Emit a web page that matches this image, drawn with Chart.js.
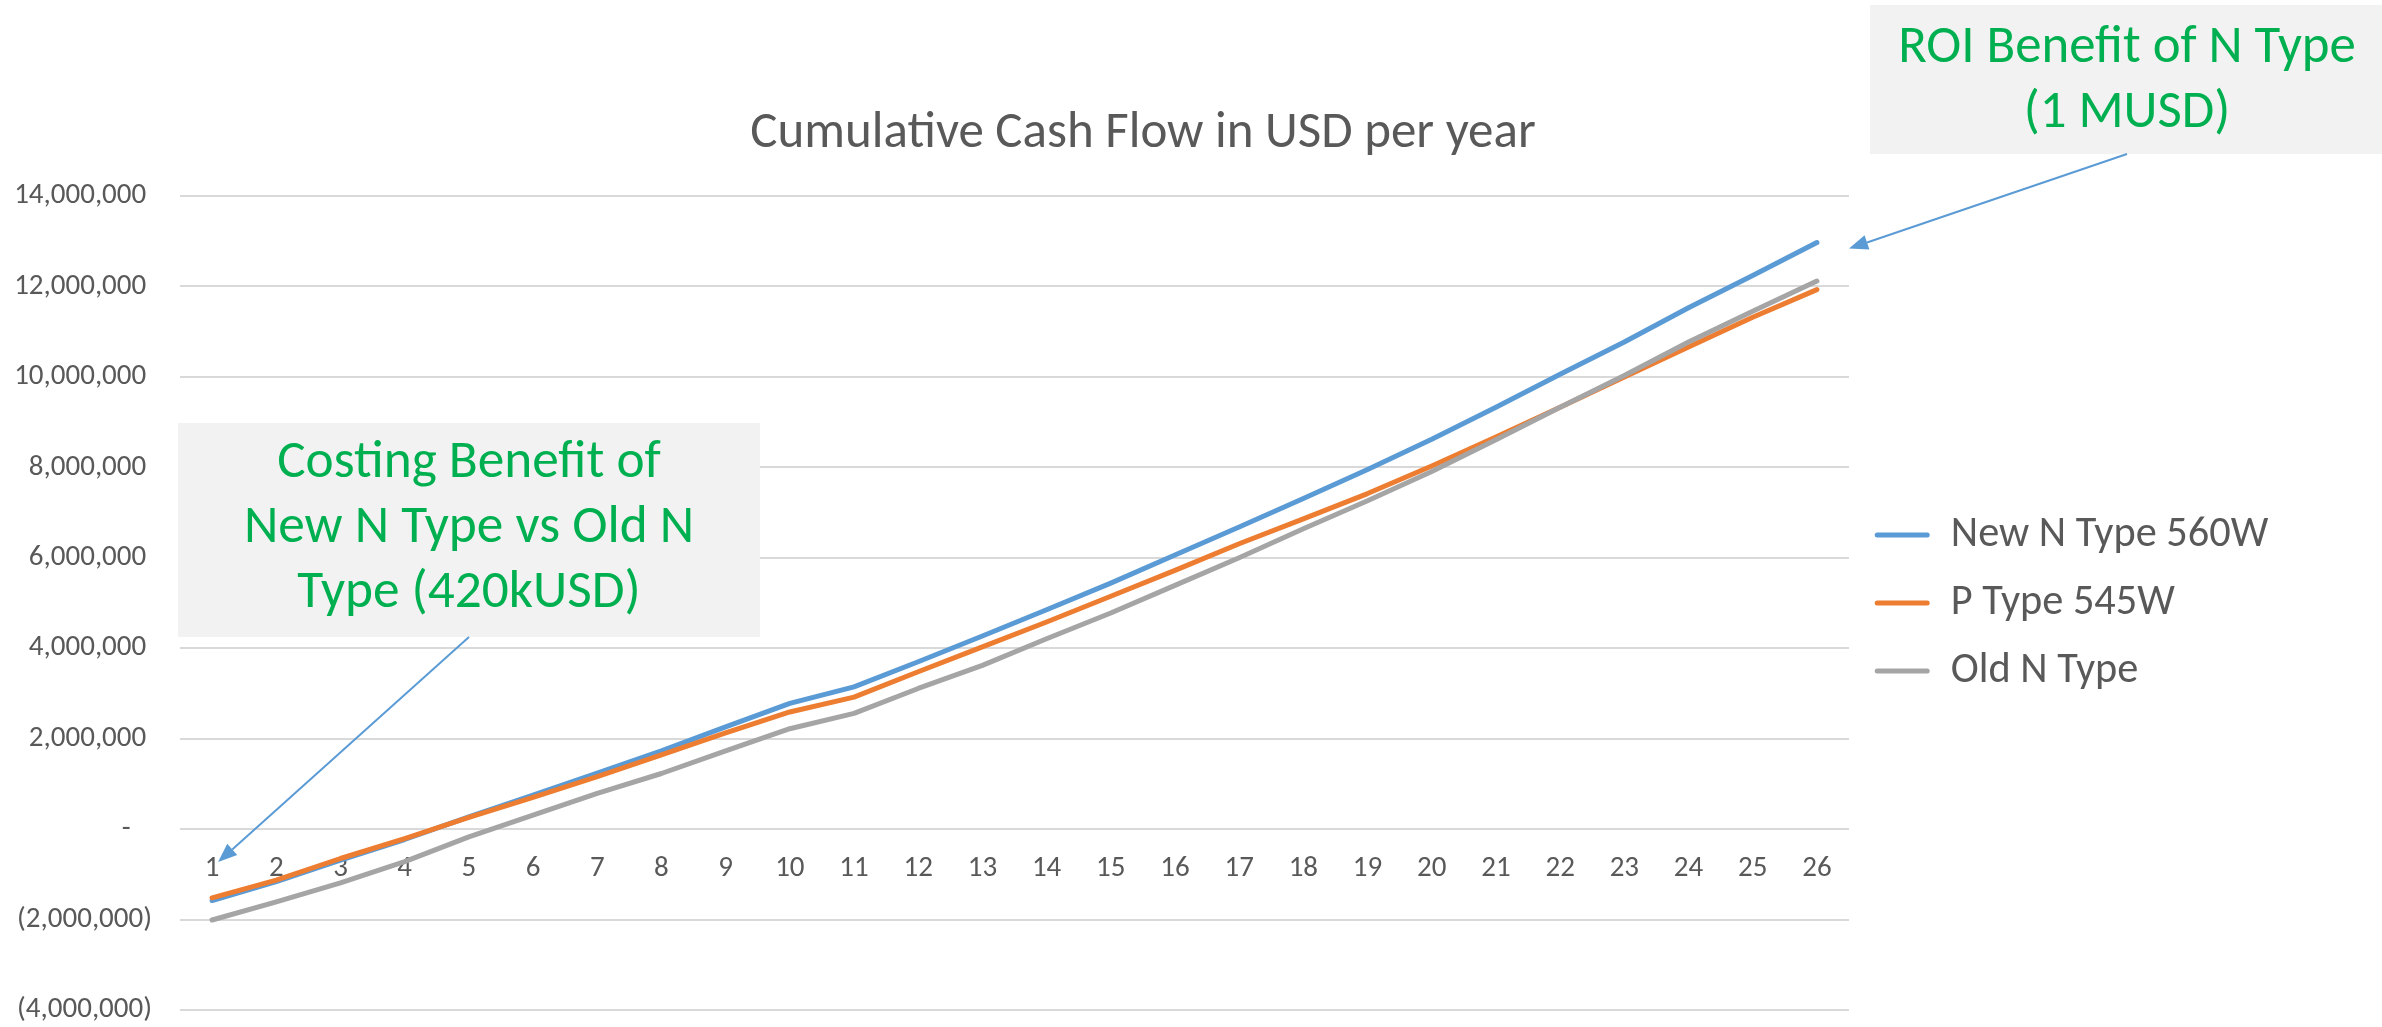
<!DOCTYPE html>
<html>
<head>
<meta charset="utf-8">
<script src="https://cdn.jsdelivr.net/npm/chart.js@4/dist/chart.umd.min.js"></script>
<style>
  html, body { margin: 0; padding: 0; background: #ffffff; }
  #wrap { position: relative; width: 2382px; height: 1027px; }
</style>
</head>
<body>
<div id="wrap"><canvas id="c"></canvas></div>
<script>
// ---------- data ----------
const years = ['1','2','3','4','5','6','7','8','9','10','11','12','13','14','15','16','17','18','19','20','21','22','23','24','25','26'];
const newNType560W = [-1580000, -1160000, -685000, -230000, 270000, 750000, 1240000, 1730000, 2260000, 2780000,
                      3145000, 3700000, 4270000, 4850000, 5440000, 6060000, 6680000, 7310000, 7950000, 8620000,
                      9330000, 10060000, 10770000, 11530000, 12240000, 12970000];
const pType545W    = [-1520000, -1130000, -650000, -210000, 260000, 700000, 1160000, 1640000, 2130000, 2590000,
                      2920000, 3480000, 4030000, 4580000, 5150000, 5720000, 6310000, 6860000, 7420000, 8030000,
                      8670000, 9330000, 10000000, 10660000, 11320000, 11930000];
const oldNType     = [-2010000, -1610000, -1190000, -720000, -170000, 310000, 790000, 1230000, 1730000, 2220000,
                      2560000, 3110000, 3620000, 4210000, 4780000, 5390000, 6000000, 6640000, 7260000, 7910000,
                      8610000, 9330000, 10030000, 10770000, 11450000, 12120000];
const seriesNames = ['New N Type 560W', 'P Type 545W', 'Old N Type'];
const yMin = -4000000, yMax = 14000000, yStep = 2000000;
const titleText = 'Cumulative Cash Flow in USD per year';
const noteCosting = ['Costing Benefit of', 'New N Type vs Old N', 'Type (420kUSD)'];
const noteROI = ['ROI Benefit of N Type', '(1 MUSD)'];

// ---------- styling ----------
const FAMILY = "Carlito, Lato, 'Open Sans', sans-serif";
const TEXT = '#595959';
const GREEN = '#00B050';
const COLORS = ['#5B9BD5', '#ED7D31', '#A5A5A5'];

const mctx = document.createElement('canvas').getContext('2d');
function fitSize(text, width) {
  mctx.font = '100px ' + FAMILY;
  return Math.round(1000 * width / mctx.measureText(text).width) / 10;
}
const TITLE_SIZE = fitSize(titleText, 785);
const TICK_SIZE = fitSize('14,000,000', 132);
const LEGEND_SIZE = fitSize('P Type 545W', 224);
const NOTE1_SIZE = fitSize(noteCosting[0], 384);
const NOTE2_SIZE = fitSize(noteROI[0], 458);

function fmtTick(v) {
  if (v === 0) return '-\u2007\u2009';
  const s = Math.abs(v).toLocaleString('en-US');
  return v < 0 ? '(' + s + ')' : s + '\u2009';
}

const legendWidthPlugin = {
  id: 'legendWidth',
  afterInit(chart) {
    const lg = chart.legend;
    if (!lg) return;
    const orig = lg.fit;
    lg.fit = function () { orig.call(this); this.width = 437; };
  }
};

function arrow(ctx, x1, y1, x2, y2) {
  const ang = Math.atan2(y2 - y1, x2 - x1);
  const hl = 19, hw = 7.5;
  const bx = x2 - hl * Math.cos(ang), by = y2 - hl * Math.sin(ang);
  ctx.strokeStyle = '#5B9BD5';
  ctx.fillStyle = '#5B9BD5';
  ctx.lineWidth = 2;
  ctx.beginPath(); ctx.moveTo(x1, y1); ctx.lineTo(bx, by); ctx.stroke();
  ctx.beginPath();
  ctx.moveTo(x2, y2);
  ctx.lineTo(bx + hw * Math.sin(ang), by - hw * Math.cos(ang));
  ctx.lineTo(bx - hw * Math.sin(ang), by + hw * Math.cos(ang));
  ctx.closePath(); ctx.fill();
}

const notesPlugin = {
  id: 'notes',
  afterDraw(chart) {
    const ctx = chart.ctx;
    const xs = chart.scales.x, ys = chart.scales.y;
    ctx.save();
    // Costing box
    ctx.fillStyle = '#F2F2F2';
    ctx.fillRect(178, 423, 582, 214);
    ctx.fillStyle = GREEN;
    ctx.textAlign = 'center';
    ctx.textBaseline = 'middle';
    ctx.font = NOTE1_SIZE + 'px ' + FAMILY;
    [464, 529, 594].forEach((yy, i) => ctx.fillText(noteCosting[i], 469, yy));
    // ROI box
    ctx.fillStyle = '#F2F2F2';
    ctx.fillRect(1870, 5, 512, 149);
    ctx.fillStyle = GREEN;
    ctx.font = NOTE2_SIZE + 'px ' + FAMILY;
    [49, 114].forEach((yy, i) => ctx.fillText(noteROI[i], 2127, yy));
    // arrows
    arrow(ctx, 469, 637, xs.getPixelForValue(0) + 6, ys.getPixelForValue(0) + 33);
    arrow(ctx, 2127, 154, chart.chartArea.right, ys.getPixelForValue(newNType560W[newNType560W.length - 1]) + 6);
    ctx.restore();
  }
};

const seriesData = [newNType560W, pType545W, oldNType];

new Chart(document.getElementById('c'), {
  type: 'line',
  data: {
    labels: years,
    datasets: seriesNames.map((name, i) => ({
      label: name,
      data: seriesData[i],
      borderColor: COLORS[i],
      backgroundColor: COLORS[i],
      borderWidth: 5,
      borderCapStyle: 'round',
      borderJoinStyle: 'round',
      pointRadius: 0,
      pointHoverRadius: 0,
      tension: 0,
      fill: false,
      order: 3 - i
    }))
  },
  options: {
    responsive: true,
    maintainAspectRatio: false,
    animation: false,
    layout: { padding: { top: 0, left: 0, right: 96, bottom: 17 } },
    scales: {
      x: {
        position: { y: 0 },
        offset: true,
        grid: { display: false, drawTicks: false },
        border: { display: false },
        ticks: { color: TEXT, font: { family: FAMILY, size: TICK_SIZE }, padding: 22, maxRotation: 0, autoSkip: false }
      },
      y: {
        min: yMin, max: yMax,
        grid: { color: '#D9D9D9', lineWidth: 2, drawTicks: false },
        border: { display: false },
        ticks: { stepSize: yStep, color: TEXT, font: { family: FAMILY, size: TICK_SIZE }, padding: 28, callback: fmtTick },
        afterFit: (s) => { s.width = 180; s.paddingTop = 0; s.paddingBottom = 0; }
      }
    },
    plugins: {
      title: {
        display: true,
        text: titleText,
        color: TEXT,
        font: { family: FAMILY, size: TITLE_SIZE, weight: 'normal', lineHeight: 1.2 },
        padding: { top: 134 - 0.6 * TITLE_SIZE, bottom: 196 - 134 - 0.6 * TITLE_SIZE }
      },
      legend: {
        position: 'right',
        fullSize: false,
        align: 'center',
        labels: {
          boxWidth: 55,
          boxHeight: 5,
          padding: 68 - LEGEND_SIZE,
          color: TEXT,
          font: { family: FAMILY, size: LEGEND_SIZE },
          useBorderRadius: true,
          borderRadius: 2.5,
          sort: (a, b) => a.datasetIndex - b.datasetIndex,
          generateLabels: (chart) => Chart.defaults.plugins.legend.labels.generateLabels(chart)
            .map(l => Object.assign({}, l, { fillStyle: l.strokeStyle, lineWidth: 0 }))
        }
      },
      tooltip: { enabled: false }
    }
  },
  plugins: [legendWidthPlugin, notesPlugin]
});
</script>
</body>
</html>
